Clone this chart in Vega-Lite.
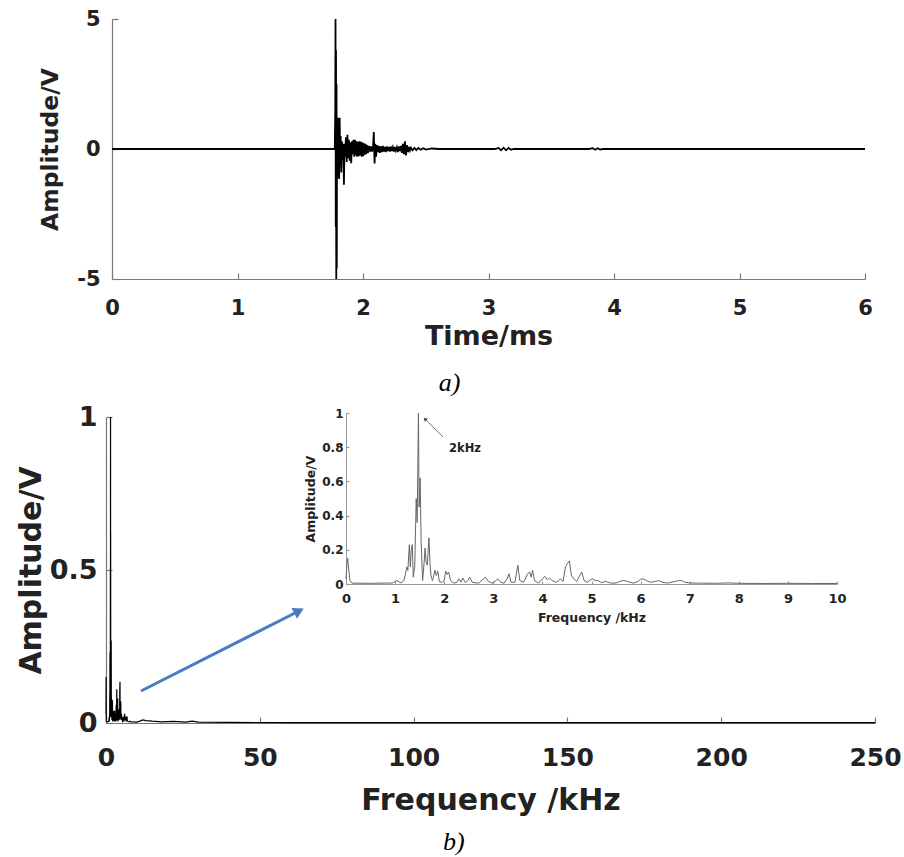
{
  "$schema": "https://vega.github.io/schema/vega-lite/v6.json",
  "width": 904,
  "height": 857,
  "autosize": {"type": "none"},
  "padding": 0,
  "background": "white",
  "config": {
    "view": {"stroke": null},
    "axis": {
      "domainColor": "#777",
      "tickColor": "#777",
      "domainWidth": 1.2,
      "tickWidth": 1.2,
      "labelColor": "#222",
      "titleColor": "#222",
      "labelFont": "DejaVu Sans",
      "titleFont": "DejaVu Sans",
      "labelFontWeight": "bold",
      "titleFontWeight": "bold",
      "grid": false,
      "labelFlush": false,
      "labelOverlap": false
    }
  },
  "datasets": {
    "signal": [
      {"t": 0, "v": 0}, {"t": 1.775, "v": 0}, {"t": 1.779, "v": 1.5}, {"t": 1.781, "v": 5.0}, {"t": 1.783, "v": -3.0},
      {"t": 1.785, "v": 3.8}, {"t": 1.787, "v": -5.0}, {"t": 1.789, "v": 2.5}, {"t": 1.791, "v": -4.6}, {"t": 1.793, "v": 1.2},
      {"t": 1.796, "v": -1.1}, {"t": 1.799, "v": 1.2}, {"t": 1.802, "v": -0.9}, {"t": 1.806, "v": 1.0}, {"t": 1.81, "v": -1.15},
      {"t": 1.814, "v": 1.2}, {"t": 1.818, "v": -0.6}, {"t": 1.822, "v": 0.5}, {"t": 1.827, "v": -0.9}, {"t": 1.832, "v": 0.3},
      {"t": 1.838, "v": -0.4}, {"t": 1.843, "v": 0.2}, {"t": 1.848, "v": -1.37}, {"t": 1.853, "v": 0.2}, {"t": 1.858, "v": -0.3},
      {"t": 1.864, "v": 0.45}, {"t": 1.87, "v": -0.5}, {"t": 1.876, "v": 0.55}, {"t": 1.882, "v": -0.35}, {"t": 1.888, "v": 0.35},
      {"t": 1.894, "v": -0.45}, {"t": 1.9, "v": 0.25}, {"t": 1.906, "v": -0.55}, {"t": 1.912, "v": 0.3}, {"t": 1.918, "v": -0.2},
      {"t": 1.924, "v": 0.35}, {"t": 1.93, "v": -0.3}, {"t": 1.936, "v": 0.35}, {"t": 1.942, "v": -0.25}, {"t": 1.948, "v": 0.3},
      {"t": 1.954, "v": -0.3}, {"t": 1.96, "v": 0.28}, {"t": 1.966, "v": -0.28}, {"t": 1.972, "v": 0.3}, {"t": 1.978, "v": -0.25},
      {"t": 1.984, "v": 0.28}, {"t": 1.99, "v": -0.3}, {"t": 1.996, "v": 0.25}, {"t": 2.002, "v": -0.28}, {"t": 2.008, "v": 0.22},
      {"t": 2.014, "v": -0.22}, {"t": 2.02, "v": 0.2}, {"t": 2.026, "v": -0.2}, {"t": 2.032, "v": 0.15}, {"t": 2.04, "v": -0.15},
      {"t": 2.048, "v": 0.12}, {"t": 2.056, "v": -0.1}, {"t": 2.064, "v": 0.1}, {"t": 2.072, "v": -0.1}, {"t": 2.08, "v": 0.1},
      {"t": 2.086, "v": 0.65}, {"t": 2.092, "v": -0.56}, {"t": 2.098, "v": 0.2}, {"t": 2.104, "v": -0.3}, {"t": 2.11, "v": 0.15},
      {"t": 2.118, "v": -0.12}, {"t": 2.126, "v": 0.12}, {"t": 2.134, "v": -0.15}, {"t": 2.142, "v": 0.1}, {"t": 2.15, "v": -0.12},
      {"t": 2.158, "v": 0.12}, {"t": 2.166, "v": -0.1}, {"t": 2.174, "v": 0.08}, {"t": 2.182, "v": -0.12}, {"t": 2.19, "v": 0.1},
      {"t": 2.198, "v": -0.08}, {"t": 2.206, "v": 0.08}, {"t": 2.214, "v": -0.1}, {"t": 2.222, "v": 0.1}, {"t": 2.23, "v": -0.08},
      {"t": 2.238, "v": 0.06}, {"t": 2.246, "v": -0.1}, {"t": 2.254, "v": 0.08}, {"t": 2.262, "v": -0.06}, {"t": 2.27, "v": 0.06},
      {"t": 2.278, "v": -0.12}, {"t": 2.286, "v": 0.1}, {"t": 2.294, "v": -0.08}, {"t": 2.302, "v": 0.12}, {"t": 2.31, "v": -0.15},
      {"t": 2.318, "v": 0.2}, {"t": 2.326, "v": -0.2}, {"t": 2.334, "v": 0.3}, {"t": 2.342, "v": -0.25}, {"t": 2.35, "v": 0.15},
      {"t": 2.358, "v": -0.12}, {"t": 2.366, "v": 0.08}, {"t": 2.374, "v": -0.06}, {"t": 2.382, "v": 0.05}, {"t": 2.395, "v": -0.05},
      {"t": 2.41, "v": 0.04}, {"t": 2.425, "v": -0.04}, {"t": 2.44, "v": 0.04}, {"t": 2.46, "v": -0.03}, {"t": 2.48, "v": 0.03},
      {"t": 2.5, "v": -0.02}, {"t": 2.55, "v": 0.02}, {"t": 2.6, "v": 0}, {"t": 3.05, "v": 0}, {"t": 3.08, "v": 0.04},
      {"t": 3.1, "v": -0.05}, {"t": 3.12, "v": 0.05}, {"t": 3.14, "v": -0.05}, {"t": 3.16, "v": 0.04}, {"t": 3.18, "v": -0.03},
      {"t": 3.2, "v": 0}, {"t": 3.8, "v": 0}, {"t": 3.83, "v": 0.03}, {"t": 3.85, "v": -0.03}, {"t": 3.87, "v": 0.03},
      {"t": 3.89, "v": -0.02}, {"t": 3.91, "v": 0}, {"t": 6, "v": 0}
    ],
    "spectrum": [
      {"f": 0, "a": 0.03}, {"f": 0.02, "a": 0.12}, {"f": 0.035, "a": 0.15}, {"f": 0.05, "a": 0.1}, {"f": 0.08, "a": 0.02},
      {"f": 0.12, "a": 0.005}, {"f": 0.5, "a": 0.004}, {"f": 0.95, "a": 0.006}, {"f": 1.0, "a": 0.015}, {"f": 1.04, "a": 0.02},
      {"f": 1.08, "a": 0.012}, {"f": 1.12, "a": 0.006}, {"f": 1.18, "a": 0.02}, {"f": 1.22, "a": 0.07}, {"f": 1.24, "a": 0.1},
      {"f": 1.26, "a": 0.08}, {"f": 1.29, "a": 0.23}, {"f": 1.31, "a": 0.1}, {"f": 1.33, "a": 0.2}, {"f": 1.35, "a": 0.23},
      {"f": 1.37, "a": 0.04}, {"f": 1.4, "a": 0.1}, {"f": 1.43, "a": 0.5}, {"f": 1.45, "a": 0.36}, {"f": 1.475, "a": 1.0},
      {"f": 1.49, "a": 0.45}, {"f": 1.51, "a": 0.62}, {"f": 1.53, "a": 0.25}, {"f": 1.56, "a": 0.02}, {"f": 1.59, "a": 0.12},
      {"f": 1.61, "a": 0.21}, {"f": 1.63, "a": 0.13}, {"f": 1.655, "a": 0.11}, {"f": 1.69, "a": 0.27}, {"f": 1.71, "a": 0.12},
      {"f": 1.73, "a": 0.05}, {"f": 1.76, "a": 0.02}, {"f": 1.78, "a": 0.04}, {"f": 1.81, "a": 0.08}, {"f": 1.84, "a": 0.05},
      {"f": 1.87, "a": 0.075}, {"f": 1.9, "a": 0.015}, {"f": 1.95, "a": 0.01}, {"f": 2.0, "a": 0.02}, {"f": 2.03, "a": 0.075},
      {"f": 2.06, "a": 0.055}, {"f": 2.09, "a": 0.07}, {"f": 2.13, "a": 0.02}, {"f": 2.2, "a": 0.005}, {"f": 2.26, "a": 0.01},
      {"f": 2.3, "a": 0.03}, {"f": 2.34, "a": 0.01}, {"f": 2.38, "a": 0.035}, {"f": 2.43, "a": 0.008}, {"f": 2.48, "a": 0.02},
      {"f": 2.52, "a": 0.04}, {"f": 2.57, "a": 0.01}, {"f": 2.7, "a": 0.005}, {"f": 2.8, "a": 0.03}, {"f": 2.84, "a": 0.04},
      {"f": 2.9, "a": 0.015}, {"f": 2.98, "a": 0.005}, {"f": 3.05, "a": 0.02}, {"f": 3.09, "a": 0.03}, {"f": 3.15, "a": 0.01},
      {"f": 3.22, "a": 0.005}, {"f": 3.28, "a": 0.03}, {"f": 3.32, "a": 0.06}, {"f": 3.36, "a": 0.01}, {"f": 3.44, "a": 0.01},
      {"f": 3.5, "a": 0.11}, {"f": 3.54, "a": 0.02}, {"f": 3.62, "a": 0.01}, {"f": 3.7, "a": 0.06}, {"f": 3.74, "a": 0.07},
      {"f": 3.77, "a": 0.04}, {"f": 3.8, "a": 0.08}, {"f": 3.84, "a": 0.02}, {"f": 3.92, "a": 0.005}, {"f": 4.0, "a": 0.03},
      {"f": 4.05, "a": 0.045}, {"f": 4.1, "a": 0.025}, {"f": 4.14, "a": 0.035}, {"f": 4.2, "a": 0.02}, {"f": 4.28, "a": 0.01},
      {"f": 4.33, "a": 0.02}, {"f": 4.37, "a": 0.03}, {"f": 4.42, "a": 0.015}, {"f": 4.47, "a": 0.1}, {"f": 4.51, "a": 0.12},
      {"f": 4.55, "a": 0.135}, {"f": 4.59, "a": 0.05}, {"f": 4.64, "a": 0.03}, {"f": 4.7, "a": 0.015}, {"f": 4.76, "a": 0.05},
      {"f": 4.8, "a": 0.07}, {"f": 4.85, "a": 0.02}, {"f": 4.92, "a": 0.01}, {"f": 4.98, "a": 0.025}, {"f": 5.02, "a": 0.03},
      {"f": 5.08, "a": 0.02}, {"f": 5.14, "a": 0.02}, {"f": 5.2, "a": 0.008}, {"f": 5.28, "a": 0.015}, {"f": 5.32, "a": 0.012},
      {"f": 5.4, "a": 0.005}, {"f": 5.5, "a": 0.006}, {"f": 5.58, "a": 0.015}, {"f": 5.63, "a": 0.02}, {"f": 5.7, "a": 0.018},
      {"f": 5.76, "a": 0.012}, {"f": 5.85, "a": 0.005}, {"f": 5.95, "a": 0.015}, {"f": 6.0, "a": 0.028}, {"f": 6.05, "a": 0.03},
      {"f": 6.12, "a": 0.02}, {"f": 6.2, "a": 0.01}, {"f": 6.3, "a": 0.015}, {"f": 6.36, "a": 0.02}, {"f": 6.45, "a": 0.01},
      {"f": 6.55, "a": 0.005}, {"f": 6.62, "a": 0.01}, {"f": 6.7, "a": 0.015}, {"f": 6.78, "a": 0.02}, {"f": 6.84, "a": 0.02},
      {"f": 6.9, "a": 0.01}, {"f": 7.0, "a": 0.006}, {"f": 7.2, "a": 0.005}, {"f": 7.5, "a": 0.004}, {"f": 7.8, "a": 0.006},
      {"f": 8.0, "a": 0.004}, {"f": 8.5, "a": 0.003}, {"f": 9.0, "a": 0.004}, {"f": 9.5, "a": 0.003}, {"f": 10, "a": 0.003},
      {"f": 11, "a": 0.006}, {"f": 12, "a": 0.01}, {"f": 13, "a": 0.008}, {"f": 15, "a": 0.006}, {"f": 18, "a": 0.004},
      {"f": 22, "a": 0.005}, {"f": 26, "a": 0.003}, {"f": 28, "a": 0.006}, {"f": 30, "a": 0.003}, {"f": 40, "a": 0.002},
      {"f": 60, "a": 0.001}, {"f": 100, "a": 0.001}, {"f": 150, "a": 0.001}, {"f": 250, "a": 0.001}
    ]
  },
  "layer": [
    {
      "data": {"name": "signal"},
      "mark": {"type": "line", "color": "black", "strokeWidth": 1.8},
      "encoding": {
        "x": {"field": "t", "type": "quantitative",
          "scale": {"domain": [0, 6], "range": [112, 865], "nice": false, "zero": false},
          "axis": {"orient": "bottom", "offset": -578, "values": [0, 1, 2, 3, 4, 5, 6], "tickSize": -6, "labelExpr": "datum.value + ''", "labelFontSize": 21, "labelPadding": 24, "title": "Time/ms", "titleFontSize": 27, "titlePadding": 5}},
        "y": {"field": "v", "type": "quantitative",
          "scale": {"domain": [-5, 5], "range": [279, 19], "nice": false, "zero": false},
          "axis": {"orient": "left", "offset": -112, "values": [-5, 0, 5], "tickSize": -6, "labelExpr": "datum.value + ''", "labelFontSize": 21, "labelPadding": 18, "title": "Amplitude/V", "titleFontSize": 23.5, "titlePadding": 14}}
      }
    },
    {
      "data": {"values": [{"t": 2.69, "v": -9.3, "label": "a)"}]},
      "mark": {"type": "text", "font": "Liberation Serif", "fontStyle": "italic", "fontSize": 26, "align": "center", "baseline": "alphabetic", "color": "black"},
      "encoding": {
        "x": {"field": "t", "type": "quantitative", "scale": {"domain": [0, 6], "range": [112, 865], "nice": false, "zero": false}, "axis": null},
        "y": {"field": "v", "type": "quantitative", "scale": {"domain": [-5, 5], "range": [279, 19], "nice": false, "zero": false}, "axis": null},
        "text": {"field": "label"}
      }
    },
    {
      "data": {"name": "spectrum"},
      "mark": {"type": "line", "color": "black", "strokeWidth": 1.2},
      "encoding": {
        "x": {"field": "f", "type": "quantitative",
          "scale": {"domain": [0, 250], "range": [106, 875], "nice": false, "zero": false},
          "axis": {"orient": "bottom", "offset": -134, "values": [0, 50, 100, 150, 200, 250], "tickSize": -6, "labelExpr": "datum.value + ''", "labelFontSize": 25, "labelPadding": 28, "title": "Frequency /kHz", "titleFontSize": 30, "titlePadding": 15}},
        "y": {"field": "a", "type": "quantitative",
          "scale": {"domain": [0, 1], "range": [723, 417], "nice": false, "zero": false},
          "axis": {"orient": "left", "offset": -106, "values": [0, 0.5, 1], "tickSize": -6, "labelExpr": "datum.value + ''", "labelFontSize": 27, "labelPadding": 15, "title": "Amplitude/V", "titleFontSize": 30, "titlePadding": 3}}
      }
    },
    {
      "data": {"values": [{"f": 11.38, "a": 0.1046, "f2": 62.74, "a2": 0.366}]},
      "mark": {"type": "rule", "color": "#4a7cc0", "strokeWidth": 3},
      "encoding": {
        "x": {"field": "f", "type": "quantitative", "scale": {"domain": [0, 250], "range": [106, 875], "nice": false, "zero": false}, "axis": null},
        "y": {"field": "a", "type": "quantitative", "scale": {"domain": [0, 1], "range": [723, 417], "nice": false, "zero": false}, "axis": null},
        "x2": {"field": "f2"},
        "y2": {"field": "a2"}
      }
    },
    {
      "data": {"values": [{"f": 62.74, "a": 0.366}]},
      "mark": {"type": "point", "shape": "triangle-up", "angle": 63, "filled": true, "size": 150, "color": "#4a7cc0", "opacity": 1},
      "encoding": {
        "x": {"field": "f", "type": "quantitative", "scale": {"domain": [0, 250], "range": [106, 875], "nice": false, "zero": false}, "axis": null},
        "y": {"field": "a", "type": "quantitative", "scale": {"domain": [0, 1], "range": [723, 417], "nice": false, "zero": false}, "axis": null}
      }
    },
    {
      "data": {"values": [{"f": 113.1, "a": -0.415, "label": "b)"}]},
      "mark": {"type": "text", "font": "Liberation Serif", "fontStyle": "italic", "fontSize": 26, "align": "center", "baseline": "alphabetic", "color": "black"},
      "encoding": {
        "x": {"field": "f", "type": "quantitative", "scale": {"domain": [0, 250], "range": [106, 875], "nice": false, "zero": false}, "axis": null},
        "y": {"field": "a", "type": "quantitative", "scale": {"domain": [0, 1], "range": [723, 417], "nice": false, "zero": false}, "axis": null},
        "text": {"field": "label"}
      }
    },
    {
      "data": {"name": "spectrum"},
      "transform": [{"filter": "datum.f <= 10"}],
      "mark": {"type": "line", "color": "#666", "strokeWidth": 1},
      "encoding": {
        "x": {"field": "f", "type": "quantitative",
          "scale": {"domain": [0, 10], "range": [346, 837], "nice": false, "zero": false},
          "axis": {"orient": "bottom", "offset": -273, "values": [0, 1, 2, 3, 4, 5, 6, 7, 8, 9, 10], "tickSize": -3, "labelExpr": "datum.value + ''", "domainColor": "#999", "tickColor": "#999", "domainWidth": 1, "labelFontSize": 13, "labelPadding": 11, "title": "Frequency /kHz", "titleFontSize": 12.5, "titlePadding": 6}},
        "y": {"field": "a", "type": "quantitative",
          "scale": {"domain": [0, 1], "range": [584, 413], "nice": false, "zero": false},
          "axis": {"orient": "left", "offset": -346, "values": [0, 0.2, 0.4, 0.6, 0.8, 1], "tickSize": -3, "labelExpr": "datum.value + ''", "domainColor": "#999", "tickColor": "#999", "domainWidth": 1, "labelFontSize": 12, "labelPadding": 6, "title": "Amplitude/V", "titleFontSize": 12.5, "titlePadding": 4}}
      }
    },
    {
      "data": {"values": [{"f": 1.975, "a": 0.86, "f2": 1.609, "a2": 0.965}]},
      "mark": {"type": "rule", "color": "#555", "strokeWidth": 0.8},
      "encoding": {
        "x": {"field": "f", "type": "quantitative", "scale": {"domain": [0, 10], "range": [346, 837], "nice": false, "zero": false}, "axis": null},
        "y": {"field": "a", "type": "quantitative", "scale": {"domain": [0, 1], "range": [584, 413], "nice": false, "zero": false}, "axis": null},
        "x2": {"field": "f2"},
        "y2": {"field": "a2"}
      }
    },
    {
      "data": {"values": [{"f": 1.609, "a": 0.965}]},
      "mark": {"type": "point", "shape": "triangle-up", "angle": 315, "filled": true, "size": 18, "color": "#444", "opacity": 1},
      "encoding": {
        "x": {"field": "f", "type": "quantitative", "scale": {"domain": [0, 10], "range": [346, 837], "nice": false, "zero": false}, "axis": null},
        "y": {"field": "a", "type": "quantitative", "scale": {"domain": [0, 1], "range": [584, 413], "nice": false, "zero": false}, "axis": null}
      }
    },
    {
      "data": {"values": [{"f": 2.098, "a": 0.772, "label": "2kHz"}]},
      "mark": {"type": "text", "font": "DejaVu Sans", "fontWeight": "bold", "fontSize": 11.5, "align": "left", "baseline": "alphabetic", "color": "#222"},
      "encoding": {
        "x": {"field": "f", "type": "quantitative", "scale": {"domain": [0, 10], "range": [346, 837], "nice": false, "zero": false}, "axis": null},
        "y": {"field": "a", "type": "quantitative", "scale": {"domain": [0, 1], "range": [584, 413], "nice": false, "zero": false}, "axis": null},
        "text": {"field": "label"}
      }
    }
  ],
  "resolve": {"scale": {"x": "independent", "y": "independent"}}
}
